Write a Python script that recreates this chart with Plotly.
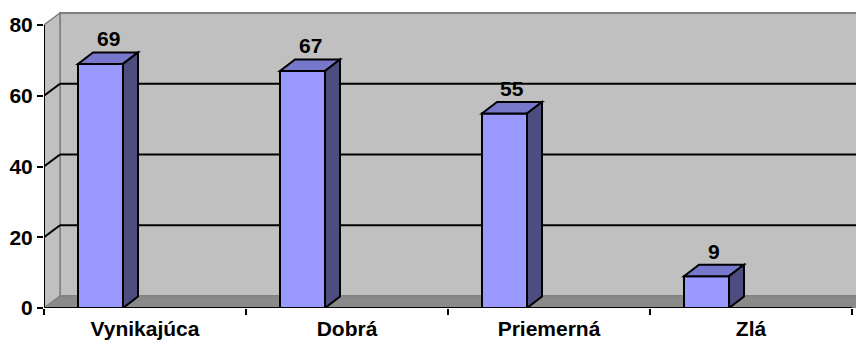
import plotly.graph_objects as go

# Survey ratings and counts
categories = ["Vynikajúca", "Dobrá", "Priemerná", "Zlá"]
values = [69, 67, 55, 9]
y_ticks = [0, 20, 40, 60, 80]

W, H = 856, 342
ML, MR, MT, MB = 44, 0, 5, 34
plot_w = W - ML - MR
plot_h = H - MT - MB
cat_px = 202.0                      # pixels per category
y_px = (308 - 25) / 80.0            # pixels per value unit
x_lo = -0.5
x_hi = x_lo + plot_w / cat_px
y_hi = plot_h / y_px
y_max = 80

# 3D depth offsets (pixels -> data units)
wall_dx, wall_dy = 16 / cat_px, 12 / y_px
bar_dx, bar_dy = 15 / cat_px, 11.5 / y_px
bar_w = 45 / cat_px
bar_off = (78 - 44) / cat_px - 0.5
x_end = len(categories) - 0.5

FRONT = "#9999FF"
TOP = "#7777CC"
SIDE = "#4D4D80"
WALL = "#C0C0C0"
FLOOR = "#8A8A8A"
EDGE = "#808080"


def poly(pts, fill, line_color, line_w, layer):
    path = "M " + " L ".join(f"{x},{y}" for x, y in pts) + " Z"
    return dict(type="path", xref="x", yref="y", path=path,
                fillcolor=fill, line=dict(color=line_color, width=line_w),
                layer=layer)


def seg(x0, y0, x1, y1, color, w, layer="below"):
    return dict(type="line", xref="x", yref="y", x0=x0, y0=y0, x1=x1, y1=y1,
                line=dict(color=color, width=w), layer=layer)


shapes = []
# back wall, side wall, floor
shapes.append(poly([(x_lo + wall_dx, wall_dy), (x_end + 1 + wall_dx, wall_dy),
                    (x_end + 1 + wall_dx, y_max + wall_dy), (x_lo + wall_dx, y_max + wall_dy)],
                   WALL, EDGE, 2, "below"))
shapes.append(poly([(x_lo, 0), (x_lo + wall_dx, wall_dy),
                    (x_lo + wall_dx, y_max + wall_dy), (x_lo, y_max)],
                   WALL, EDGE, 1.5, "below"))
shapes.append(poly([(x_lo, 0), (x_end + 1, 0), (x_end + 1 + wall_dx, wall_dy),
                    (x_lo + wall_dx, wall_dy)], FLOOR, EDGE, 1, "below"))

# gridlines across side wall and back wall
for t in y_ticks[1:-1]:
    shapes.append(seg(x_lo, t, x_lo + wall_dx, t + wall_dy, "black", 2))
    shapes.append(seg(x_lo + wall_dx, t + wall_dy, x_end + 1 + wall_dx, t + wall_dy, "black", 2))

# axis lines
shapes.append(seg(x_lo, 0, x_lo, y_max, "black", 2, "above"))
shapes.append(seg(x_lo, 0, x_end, 0, "black", 2, "above"))

# top and side faces of the columns
for i, v in enumerate(values):
    xl = i + bar_off
    xr = xl + bar_w
    shapes.append(poly([(xl, v), (xr, v), (xr + bar_dx, v + bar_dy), (xl + bar_dx, v + bar_dy)],
                       TOP, "black", 2, "above"))
    shapes.append(poly([(xr, 0), (xr + bar_dx, bar_dy), (xr + bar_dx, v + bar_dy), (xr, v)],
                       SIDE, "black", 2, "above"))

label_font = dict(family="Liberation Sans, Arial", size=21, color="black", weight="bold")

annotations = []
for i, v in enumerate(values):
    annotations.append(dict(x=i + bar_off + bar_w / 2 + bar_dx / 2, y=v + bar_dy,
                            xref="x", yref="y", text=str(v), showarrow=False,
                            yanchor="bottom", yshift=0, font=label_font))

fig = go.Figure(go.Bar(
    x=categories, y=values, width=bar_w, offset=bar_off,
    marker=dict(color=FRONT, line=dict(color="black", width=2)),
    hoverinfo="skip",
))

fig.update_layout(
    width=W, height=H,
    margin=dict(l=ML, r=MR, t=MT, b=MB),
    paper_bgcolor="white", plot_bgcolor="white",
    showlegend=False,
    shapes=shapes,
    annotations=annotations,
    xaxis=dict(type="category", range=[x_lo, x_hi], tickson="boundaries",
               ticks="outside", ticklen=6, tickwidth=2, tickcolor="black",
               ticklabelstandoff=6,
               showline=False, showgrid=False, zeroline=False,
               tickfont=label_font, fixedrange=True),
    yaxis=dict(range=[0, y_hi], tickvals=y_ticks, ticks="outside", ticklen=6,
               tickwidth=2, tickcolor="black", showline=False, showgrid=False,
               zeroline=False, tickfont=label_font, fixedrange=True),
)

fig.write_html("out.html", config={"displayModeBar": False})
